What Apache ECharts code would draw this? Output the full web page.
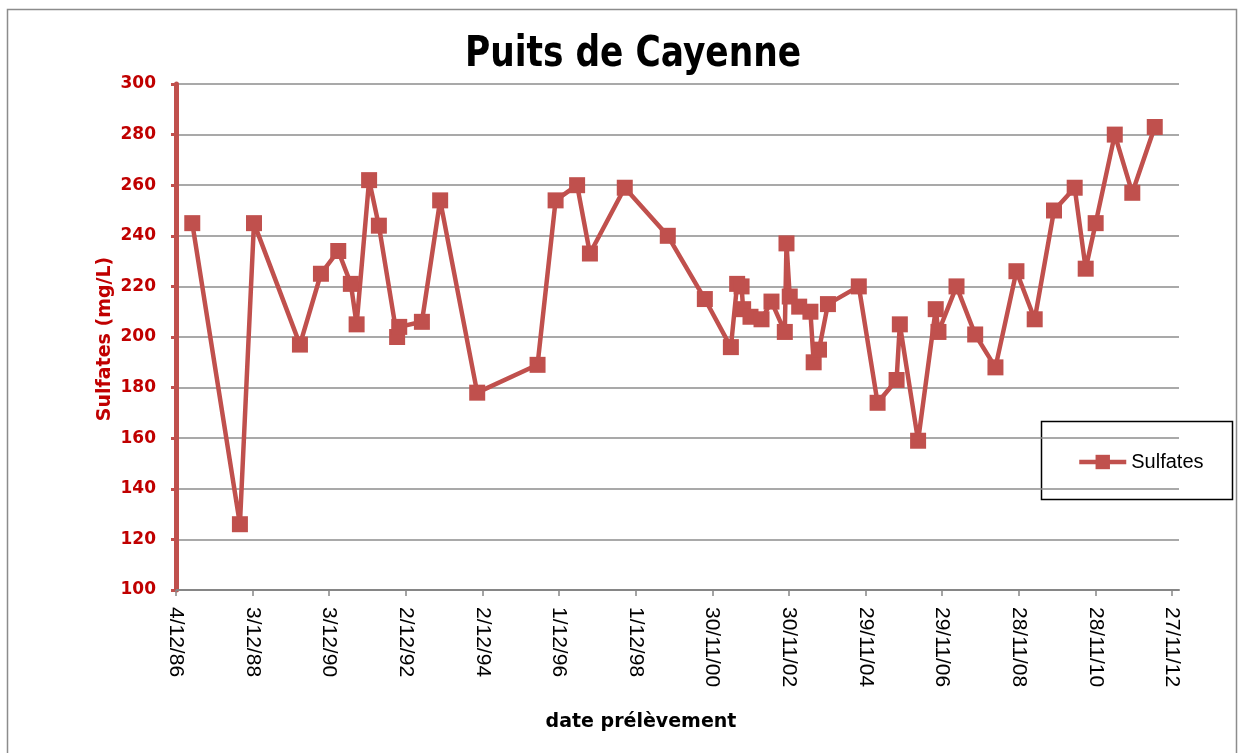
<!DOCTYPE html>
<html>
<head>
<meta charset="utf-8">
<script src="https://cdn.jsdelivr.net/npm/echarts@6/dist/echarts.min.js"></script>
<style>
html,body{margin:0;padding:0;background:#fff;}
#chart{width:1246px;height:753px;}
</style>
</head>
<body>
<div id="chart"></div>
<script>
// ---- data ----
const sampleDates = [
  '1987-05-08','1988-08-04','1988-12-16','1990-02-27','1990-09-15','1991-02-27','1991-06-27','1991-08-21',
  '1991-12-18','1992-03-20','1992-09-10','1992-09-30','1993-05-04','1993-10-25','1994-10-13','1996-05-10',
  '1996-10-29','1997-05-22','1997-09-21','1998-08-19','1999-10-03','2000-09-20','2001-05-26','2001-07-25',
  '2001-09-05','2001-09-20','2001-11-29','2002-03-14','2002-06-17','2002-10-22','2002-11-07','2002-12-08',
  '2003-03-08','2003-06-23','2003-07-24','2003-09-13','2003-12-07','2004-09-26','2005-03-24','2005-09-21',
  '2005-10-22','2006-04-14','2006-09-29','2006-10-25','2007-04-15','2007-10-10','2008-04-20','2008-11-06',
  '2009-04-29','2009-10-30','2010-05-15','2010-08-28','2010-12-01','2011-06-01','2011-11-15','2012-06-16'
];
const sulfates = [
  245,126,245,197,225,234,221,205,
  262,244,200,204,206,254,178,189,
  254,260,233,259,240,215,196,221,
  220,211,208,207,214,202,237,216,
  212,210,190,195,213,220,174,183,
  205,159,211,202,220,201,188,226,
  207,250,259,227,245,280,257,283
];
const xTickLabels = ['4/12/86','3/12/88','3/12/90','2/12/92','2/12/94','1/12/96','1/12/98',
  '30/11/00','30/11/02','29/11/04','29/11/06','28/11/08','28/11/10','27/11/12'];
const yTicks = [100,120,140,160,180,200,220,240,260,280,300];
const seriesName = 'Sulfates';
const chartTitle = 'Puits de Cayenne';
const xName = 'date prélèvement';
const yName = 'Sulfates (mg/L)';

// ---- helpers ----
const ORIGIN = Date.UTC(1986, 11, 4);
function dayOffsetISO(s){ const p = s.split('-').map(Number); return (Date.UTC(p[0], p[1]-1, p[2]) - ORIGIN)/86400000; }
function dayOffsetLabel(s){ const p = s.split('/').map(Number); const y = p[2] < 50 ? 2000 + p[2] : 1900 + p[2]; return (Date.UTC(y, p[1]-1, p[0]) - ORIGIN)/86400000; }

const tickValues = xTickLabels.map(dayOffsetLabel);
const labelMap = {};
tickValues.forEach((v,i)=>{ labelMap[Math.round(v)] = xTickLabels[i]; });
const points = sampleDates.map((d,i)=>[dayOffsetISO(d), sulfates[i]]);

const RED = '#C0504D';
const chart = echarts.init(document.getElementById('chart'), null, {renderer:'canvas'});
chart.setOption({
  animation: false,
  backgroundColor: '#fff',
  grid: { left: 176, right: 67, top: 84, bottom: 163, containLabel: false },
  xAxis: {
    type: 'value',
    min: tickValues[0],
    max: 9557,
    axisLine: { show: true, lineStyle: { color: '#868686', width: 2 } },
    axisTick: { show: true, length: 6, lineStyle: { color: '#868686', width: 1.5 }, customValues: tickValues },
    axisLabel: {
      customValues: tickValues,
      rotate: -90,
      margin: 17,
      color: '#000',
      fontFamily: 'Liberation Sans',
      fontSize: 21,
      formatter: v => labelMap[Math.round(v)] || ''
    },
    splitLine: { show: false }
  },
  yAxis: {
    type: 'value',
    min: yTicks[0],
    max: yTicks[yTicks.length-1],
    interval: yTicks[1]-yTicks[0],
    axisLine: { show: true, lineStyle: { color: RED, width: 5 } },
    axisTick: { show: true, length: 5, lineStyle: { color: RED, width: 3 } },
    axisLabel: { margin: 20, color: '#C00000', fontWeight: 'bold', fontFamily: 'DejaVu Sans', fontSize: 17 },
    splitLine: { show: true, lineStyle: { color: '#8c8c8c', width: 1.5 } }
  },
  legend: {
    data: [seriesName],
    left: 1072,
    top: 446,
    itemWidth: 47,
    itemHeight: 18,
    itemGap: 5,
    lineStyle: { width: 4.5 },
    textStyle: { color: '#000', fontFamily: 'Liberation Sans', fontSize: 20, lineHeight: 22 }
  },
  graphic: [
    { type: 'rect', shape: { x: 7.5, y: 9.5, width: 1229, height: 800 }, style: { fill: 'none', stroke: '#8c8c8c', lineWidth: 1.5 }, silent: true, z: -10 },
    { type: 'rect', shape: { x: 1041.5, y: 421.5, width: 191, height: 78 }, style: { fill: '#fff', stroke: '#000', lineWidth: 1.5 }, silent: true, z: 0 },
    { type: 'text', x: 633, y: 55, scaleX: 0.82, style: { text: chartTitle, x: 0, y: 0, align: 'center', verticalAlign: 'middle', fill: '#000', font: 'bold 42px "DejaVu Sans"' }, silent: true },
    { type: 'text', x: 105, y: 339, rotation: Math.PI/2, style: { text: yName, x: 0, y: 0, align: 'center', verticalAlign: 'middle', fill: '#C00000', font: 'bold 19px "DejaVu Sans"' }, silent: true },
    { type: 'text', x: 641, y: 722, style: { text: xName, x: 0, y: 0, align: 'center', verticalAlign: 'middle', fill: '#000', font: 'bold 19px "DejaVu Sans"' }, silent: true }
  ],
  series: [{
    name: seriesName,
    type: 'line',
    data: points,
    symbol: 'rect',
    symbolSize: 16,
    showSymbol: true,
    lineStyle: { color: RED, width: 4.5 },
    itemStyle: { color: RED },
    z: 5
  }]
});
</script>
</body>
</html>
